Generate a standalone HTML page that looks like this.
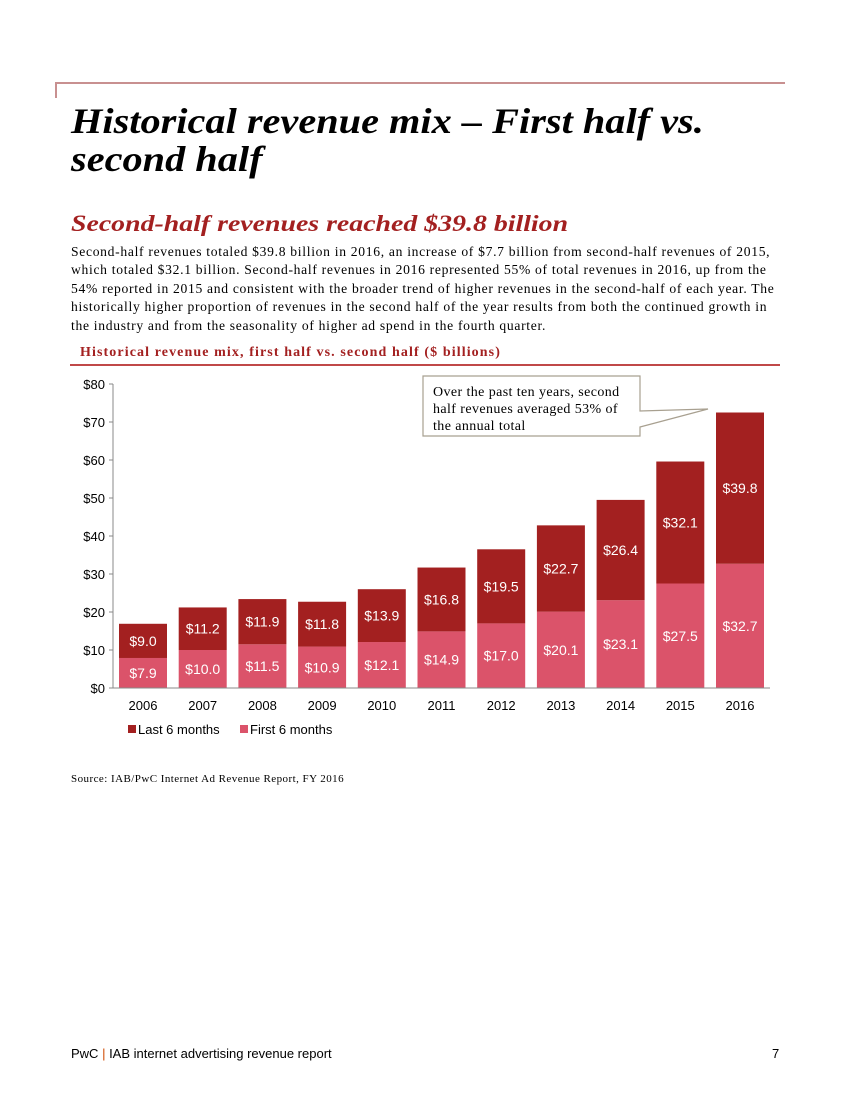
<!DOCTYPE html>
<html><head><meta charset="utf-8"><style>
body{margin:0;width:850px;height:1100px;background:#fff;position:relative;overflow:hidden}
.abs{position:absolute}
.serif{font-family:"Liberation Serif","DejaVu Serif",serif}
.sans{font-family:"Liberation Sans",Arial,sans-serif}
</style></head><body>
<div class="abs" style="left:55px;top:82px;width:730px;height:2px;background:#c89090"></div>
<div class="abs" style="left:55px;top:82px;width:2px;height:16px;background:#c89090"></div>
<div class="abs serif" style="left:71px;top:102px;font-size:36px;line-height:38px;font-weight:bold;font-style:italic;color:#000;white-space:nowrap;transform:scaleX(1.12);transform-origin:left top">Historical revenue mix – First half vs.<br>second half</div>
<div class="abs serif" style="left:71px;top:211px;font-size:23px;font-weight:bold;font-style:italic;color:#a32020;white-space:nowrap;transform:scaleX(1.21);transform-origin:left top">Second-half revenues reached $39.8 billion</div>
<div class="abs serif" style="left:71px;top:243px;width:716px;font-size:13.6px;line-height:18.4px;letter-spacing:0.69px;color:#000">Second-half revenues totaled $39.8 billion in 2016, an increase of $7.7 billion from second-half revenues of 2015, which totaled $32.1 billion. Second-half revenues in 2016 represented 55% of total revenues in 2016, up from the 54% reported in 2015 and consistent with the broader trend of higher revenues in the second-half of each year. The historically higher proportion of revenues in the second half of the year results from both the continued growth in the industry and from the seasonality of higher ad spend in the fourth quarter.</div>
<div class="abs serif" style="left:80px;top:345px;font-size:14px;font-weight:bold;color:#a32020;letter-spacing:1.1px;white-space:nowrap">Historical revenue mix, first half vs. second half ($ billions)</div>
<div class="abs" style="left:70px;top:364px;width:710px;height:2px;background:#c04848"></div>
<svg class="abs" style="left:0;top:0" width="850" height="1100">
<g id="g"></g>
<g>
<polygon points="423,376 640,376 640,411 708,409 640,427 640,436 423,436" fill="#fff" stroke="#a8a090" stroke-width="1.2"/>
<text x="433" y="396" font-family="Liberation Serif,serif" font-size="14" letter-spacing="0.4" fill="#000">Over the past ten years, second</text>
<text x="433" y="413" font-family="Liberation Serif,serif" font-size="14" letter-spacing="0.4" fill="#000">half revenues averaged 53% of</text>
<text x="433" y="430" font-family="Liberation Serif,serif" font-size="14" letter-spacing="0.4" fill="#000">the annual total</text>
</g>
</svg>
<div class="abs serif" style="left:71px;top:773px;font-size:11px;letter-spacing:0.45px;color:#000;white-space:nowrap">Source: IAB/PwC Internet Ad Revenue Report, FY 2016</div>
<div class="abs sans" style="left:71px;top:1046px;font-size:13px;color:#000">PwC <span style="color:#d04a02">|</span> IAB internet advertising revenue report</div>
<div class="abs sans" style="left:772px;top:1046px;font-size:13px;color:#000">7</div>
<script>
const years=["2006","2007","2008","2009","2010","2011","2012","2013","2014","2015","2016"];
const firstHalf=[7.9,10.0,11.5,10.9,12.1,14.9,17.0,20.1,23.1,27.5,32.7];
const secondHalf=[9.0,11.2,11.9,11.8,13.9,16.8,19.5,22.7,26.4,32.1,39.8];
const yTicks=[0,10,20,30,40,50,60,70,80];
const NS="http://www.w3.org/2000/svg";
const g=document.getElementById('g');
const y0=688,yTop=384,yMax=80,x0=113,step=59.7,bw=48;
const y=v=>y0-(v/yMax)*(y0-yTop);
const xc=i=>143+i*step;
function mk(t,a,txt){const e=document.createElementNS(NS,t);for(const k in a)e.setAttribute(k,a[k]);if(txt!=null)e.textContent=txt;g.appendChild(e);return e;}
yTicks.forEach(t=>{
 mk('line',{x1:x0-4,x2:x0,y1:y(t),y2:y(t),stroke:'#888'});
 const e=mk('text',{x:x0-8,y:y(t)+5,'text-anchor':'end','font-family':'Liberation Sans,sans-serif','font-size':13,fill:'#000'},'$'+t);
 
 
});
mk('line',{x1:x0,x2:x0,y1:yTop,y2:y0,stroke:'#888'});
years.forEach((yr,i)=>{
 const f=firstHalf[i],s=secondHalf[i],x=xc(i)-bw/2;
 const r1=mk('rect',{x:x,y:y(f),width:bw,height:y0-y(f),fill:'#db536a'});
 
 
 const r2=mk('rect',{x:x,y:y(f+s),width:bw,height:y(f)-y(f+s),fill:'#a32020'});
 
 
 const t1=mk('text',{x:xc(i),y:(y(f)+y0)/2+5,'text-anchor':'middle','font-family':'Liberation Sans,sans-serif','font-size':14,fill:'#fff'},'$'+f.toFixed(1));
 
 
 const t2=mk('text',{x:xc(i),y:(y(f)+y(f+s))/2+5,'text-anchor':'middle','font-family':'Liberation Sans,sans-serif','font-size':14,fill:'#fff'},'$'+s.toFixed(1));
 
 
 const xl=mk('text',{x:xc(i),y:710,'text-anchor':'middle','font-family':'Liberation Sans,sans-serif','font-size':13,fill:'#000'},yr);
 
 
});
mk('line',{x1:x0,x2:770,y1:y0,y2:y0,stroke:'#888'});
const l1=mk('rect',{x:128,y:725,width:8,height:8,fill:'#a32020'});


const lt1=mk('text',{x:138,y:734,'font-family':'Liberation Sans,sans-serif','font-size':13,fill:'#000'},'Last 6 months');


const l2=mk('rect',{x:240,y:725,width:8,height:8,fill:'#db536a'});


const lt2=mk('text',{x:250,y:734,'font-family':'Liberation Sans,sans-serif','font-size':13,fill:'#000'},'First 6 months');


</script>
</body></html>
